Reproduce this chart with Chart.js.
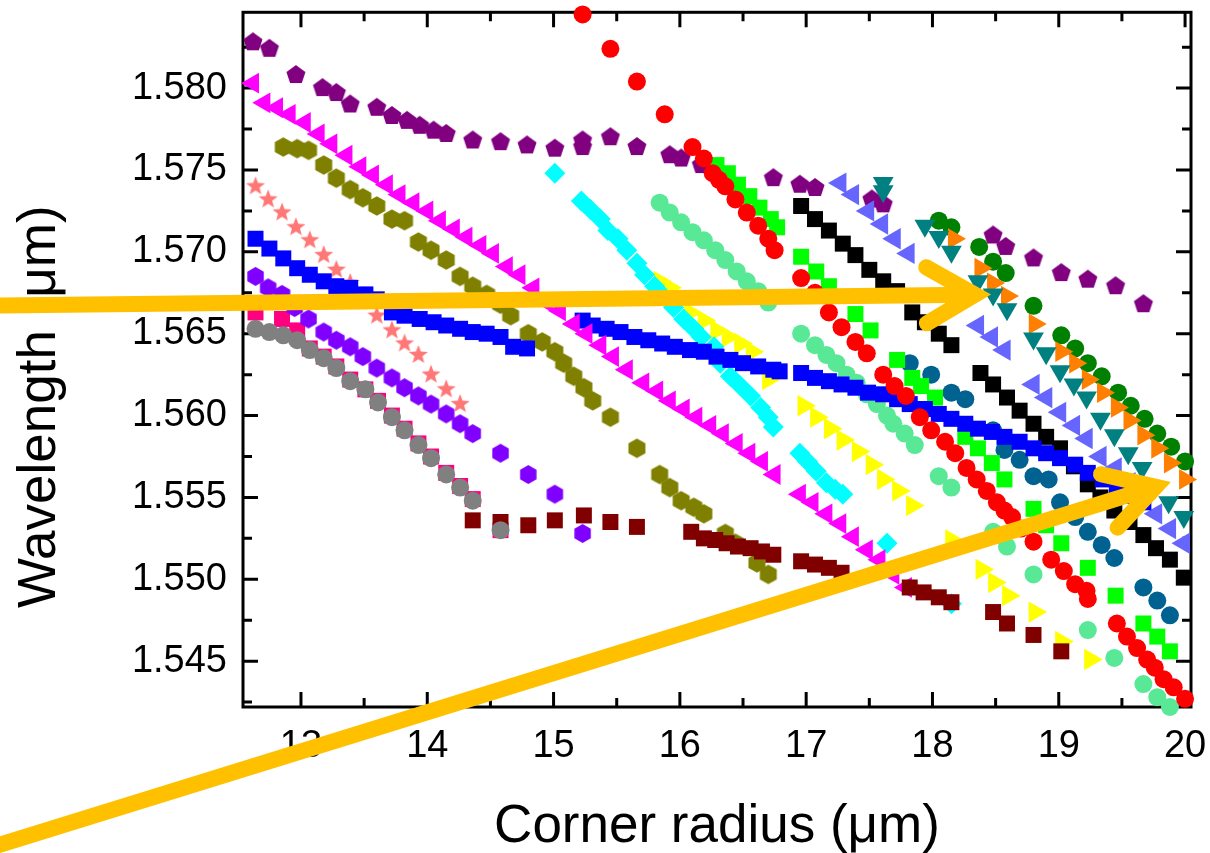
<!DOCTYPE html>
<html>
<head>
<meta charset="utf-8">
<script src="https://cdn.jsdelivr.net/npm/chart.js@4.4.1/dist/chart.umd.min.js"></script>
<style>
  html, body { margin: 0; padding: 0; background: #ffffff; }
  #wrap { width: 1210px; height: 853px; position: relative; }
</style>
</head>
<body>
<div id="wrap"><canvas id="chart"></canvas></div>
<script>
// ---- axes ----
const xRange = [12.541, 20.047];
const yRange = [1.5422, 1.58463];
const xTicks = [13, 14, 15, 16, 17, 18, 19, 20];
const xMinorTicks = [13.5, 14.5, 15.5, 16.5, 17.5, 18.5, 19.5];
const yTicks = [1.545, 1.550, 1.555, 1.560, 1.565, 1.570, 1.575, 1.580];
const yMinorTicks = [1.5425, 1.5475, 1.5525, 1.5575, 1.5625, 1.5675, 1.5725, 1.5775, 1.5825];
const xTitle = 'Corner radius (μm)';
const yTitle = 'Wavelength (μm)';

// ---- resonance branches: [corner radius, wavelength] ----
const redCircles = [[15.23,1.5845],[15.45,1.5824],[15.66,1.5804],[15.88,1.5784],[16.10,1.5764],[16.19,1.5757],[16.26,1.5748],[16.31,1.5744],[16.36,1.5740],[16.44,1.5732],[16.53,1.5724],[16.62,1.5716],[16.70,1.5708],[16.75,1.5701],[16.96,1.5684],[17.07,1.5675],[17.18,1.5663],[17.28,1.5654],[17.39,1.5645],[17.48,1.5638],[17.61,1.5625],[17.70,1.5618],[17.79,1.5612],[17.90,1.5599],[17.99,1.5591],[18.10,1.5584],[18.18,1.5577],[18.27,1.5568],[18.35,1.5561],[18.43,1.5554],[18.51,1.5547],[18.57,1.5542],[18.63,1.5538],[18.70,1.5531],[18.80,1.5523],[18.94,1.5512],[19.04,1.5505],[19.13,1.5497],[19.22,1.5493],[19.23,1.5488],[19.46,1.5473],[19.54,1.5465],[19.62,1.5458],[19.70,1.5451],[19.76,1.5446],[19.83,1.5439],[19.91,1.5434],[20.00,1.5427]];
const grayCircles = [[12.64,1.5653],[12.75,1.5651],[12.86,1.5649],[12.97,1.5646],[13.07,1.5640],[13.18,1.5635],[13.28,1.5629],[13.39,1.5621],[13.51,1.5616],[13.61,1.5608],[13.72,1.5599],[13.82,1.5591],[13.93,1.5582],[14.03,1.5574],[14.15,1.5564],[14.26,1.5556],[14.36,1.5548],[14.58,1.5530]];
const darkRedSquares = [[14.36,1.5536],[14.58,1.5535],[14.80,1.5533],[15.01,1.5536],[15.24,1.5539],[15.45,1.5535],[15.66,1.5532],[16.09,1.5529],[16.19,1.5525],[16.28,1.5524],[16.37,1.5522],[16.46,1.5520],[16.56,1.5519],[16.65,1.5517],[16.74,1.5515],[16.96,1.5511],[17.07,1.5509],[17.18,1.5507],[17.28,1.5504],[17.82,1.5495],[17.93,1.5492],[18.05,1.5489],[18.15,1.5486],[18.48,1.5480],[18.59,1.5473],[18.80,1.5466],[19.02,1.5456]];
const magentaTriangles = [[12.62,1.5803],[12.71,1.5791],[12.81,1.5788],[12.91,1.5784],[13.03,1.5779],[13.14,1.5772],[13.24,1.5766],[13.36,1.5759],[13.47,1.5752],[13.57,1.5747],[13.68,1.5741],[13.78,1.5735],[13.89,1.5730],[14.00,1.5725],[14.10,1.5719],[14.21,1.5714],[14.31,1.5709],[14.42,1.5704],[14.52,1.5699],[14.63,1.5691],[14.73,1.5686],[14.84,1.5678],[14.95,1.5669],[15.05,1.5664],[15.16,1.5656],[15.26,1.5650],[15.37,1.5643],[15.47,1.5636],[15.58,1.5628],[15.71,1.5620],[15.82,1.5615],[15.92,1.5609],[16.03,1.5604],[16.13,1.5599],[16.24,1.5594],[16.34,1.5589],[16.45,1.5583],[16.55,1.5577],[16.65,1.5572],[16.75,1.5564],[16.95,1.5552],[17.05,1.5547],[17.16,1.5540],[17.27,1.5534],[17.37,1.5526],[17.48,1.5518],[17.58,1.5512],[17.69,1.5503],[17.79,1.5495]];
const blueSquares = [[12.64,1.5708],[12.75,1.5702],[12.86,1.5696],[12.97,1.5690],[13.07,1.5686],[13.18,1.5682],[13.28,1.5679],[13.39,1.5678],[13.51,1.5674],[13.60,1.5671],[13.72,1.5663],[13.82,1.5661],[13.94,1.5659],[14.05,1.5657],[14.15,1.5655],[14.26,1.5653],[14.36,1.5651],[14.47,1.5650],[14.58,1.5648],[14.68,1.5642],[14.79,1.5641],[15.23,1.5658],[15.31,1.5655],[15.42,1.5653],[15.53,1.5651],[15.64,1.5648],[15.75,1.5646],[15.86,1.5644],[15.96,1.5642],[16.08,1.5640],[16.19,1.5639],[16.29,1.5636],[16.40,1.5634],[16.50,1.5632],[16.62,1.5630],[16.74,1.5628],[16.79,1.5627],[16.96,1.5626],[17.07,1.5623],[17.18,1.5621],[17.28,1.5619],[17.39,1.5617],[17.49,1.5614],[17.61,1.5613],[17.72,1.5610],[17.82,1.5607],[17.94,1.5604],[18.05,1.5601],[18.15,1.5598],[18.26,1.5595],[18.36,1.5592],[18.47,1.5590],[18.57,1.5587],[18.69,1.5584],[18.80,1.5580],[18.90,1.5577],[19.01,1.5574],[19.13,1.5570],[19.23,1.5565],[19.35,1.5561],[19.46,1.5556],[19.56,1.5551],[19.67,1.5547]];
const oliveHexagons = [[12.86,1.5764],[12.97,1.5763],[13.06,1.5762],[13.18,1.5753],[13.28,1.5745],[13.39,1.5738],[13.49,1.5733],[13.60,1.5728],[13.72,1.5720],[13.82,1.5719],[13.93,1.5706],[14.03,1.5701],[14.15,1.5695],[14.26,1.5685],[14.36,1.5679],[14.47,1.5674],[14.58,1.5668],[14.66,1.5661],[14.80,1.5650],[14.91,1.5645],[15.01,1.5639],[15.08,1.5632],[15.16,1.5624],[15.24,1.5617],[15.31,1.5609],[15.45,1.5599],[15.66,1.5580],[15.84,1.5564],[15.92,1.5556],[16.01,1.5548],[16.11,1.5544],[16.19,1.5540],[16.36,1.5528],[16.44,1.5522],[16.61,1.5510],[16.70,1.5503]];
const cyanDiamonds = [[15.01,1.5748],[15.22,1.5731],[15.29,1.5726],[15.37,1.5720],[15.43,1.5713],[15.51,1.5708],[15.58,1.5701],[15.66,1.5693],[15.72,1.5686],[15.80,1.5679],[15.87,1.5673],[15.95,1.5666],[16.03,1.5659],[16.11,1.5653],[16.17,1.5648],[16.27,1.5642],[16.32,1.5632],[16.40,1.5624],[16.48,1.5618],[16.56,1.5612],[16.64,1.5605],[16.70,1.5599],[16.74,1.5593],[16.95,1.5577],[17.01,1.5572],[17.08,1.5566],[17.16,1.5559],[17.23,1.5555],[17.29,1.5552],[17.64,1.5522],[18.15,1.5485]];
const yellowTriangles = [[15.84,1.5682],[15.92,1.5678],[16.08,1.5663],[16.19,1.5658],[16.29,1.5652],[16.38,1.5648],[16.48,1.5644],[16.57,1.5639],[16.70,1.5622],[16.98,1.5606],[17.08,1.5599],[17.19,1.5592],[17.29,1.5585],[17.41,1.5578],[17.52,1.5570],[17.61,1.5561],[17.73,1.5554],[17.84,1.5545],[18.15,1.5524],[18.39,1.5506],[18.49,1.5498],[18.60,1.5490],[18.81,1.5480],[19.02,1.5462],[19.25,1.5451]];
const blackSquares = [[16.96,1.5728],[17.07,1.5720],[17.18,1.5713],[17.29,1.5705],[17.39,1.5698],[17.50,1.5689],[17.61,1.5682],[17.72,1.5676],[17.84,1.5663],[17.94,1.5657],[18.05,1.5650],[18.15,1.5643],[18.38,1.5626],[18.48,1.5619],[18.59,1.5611],[18.69,1.5603],[18.80,1.5595],[18.90,1.5587],[19.01,1.5580],[19.12,1.5569],[19.23,1.5558],[19.33,1.5550],[19.44,1.5542],[19.56,1.5535],[19.67,1.5527],[19.77,1.5519],[19.88,1.5512],[19.99,1.5501]];
const greenSquares = [[16.29,1.5753],[16.38,1.5748],[16.46,1.5741],[16.55,1.5734],[16.63,1.5727],[16.72,1.5720],[16.77,1.5715],[16.96,1.5697],[17.08,1.5688],[17.18,1.5679],[17.39,1.5662],[17.51,1.5652],[17.72,1.5634],[17.84,1.5623],[17.91,1.5618],[18.02,1.5611],[18.26,1.5587],[18.36,1.5580],[18.47,1.5571],[18.57,1.5561],[18.80,1.5543],[18.90,1.5533],[19.02,1.5522],[19.23,1.5507],[19.45,1.5490],[19.67,1.5473],[19.78,1.5465],[19.88,1.5456]];
const seafoamCircles = [[15.84,1.5730],[15.92,1.5724],[16.01,1.5718],[16.10,1.5712],[16.19,1.5707],[16.28,1.5701],[16.36,1.5695],[16.45,1.5688],[16.53,1.5682],[16.62,1.5676],[16.70,1.5669],[16.96,1.5650],[17.07,1.5643],[17.16,1.5637],[17.24,1.5632],[17.32,1.5625],[17.40,1.5620],[17.48,1.5613],[17.56,1.5607],[17.64,1.5600],[17.69,1.5595],[17.78,1.5589],[17.86,1.5582],[18.05,1.5563],[18.15,1.5556],[18.48,1.5529],[18.59,1.5520],[18.80,1.5503],[19.23,1.5469],[19.44,1.5452],[19.67,1.5436],[19.78,1.5428],[19.88,1.5422]];
const steelCircles = [[17.82,1.5632],[17.99,1.5625],[18.15,1.5614],[18.26,1.5610],[18.48,1.5591],[18.57,1.5579],[18.69,1.5573],[18.80,1.5563],[18.92,1.5561],[19.01,1.5547],[19.13,1.5538],[19.23,1.5529],[19.34,1.5521],[19.44,1.5513],[19.67,1.5495],[19.78,1.5487],[19.88,1.5478]];
const slateTriangles = [[17.27,1.5742],[17.37,1.5735],[17.49,1.5725],[17.60,1.5717],[17.70,1.5708],[17.81,1.5699],[18.36,1.5655],[18.47,1.5648],[18.57,1.5640],[18.80,1.5619],[18.90,1.5611],[19.01,1.5602],[19.12,1.5594],[19.22,1.5586],[19.33,1.5575],[19.45,1.5568],[19.56,1.5559],[19.67,1.5550],[19.77,1.5540],[19.88,1.5531],[19.99,1.5522]];
const tealTriangles = [[17.61,1.5742],[17.61,1.5737],[17.94,1.5716],[18.05,1.5709],[18.15,1.5700],[18.36,1.5682],[18.48,1.5674],[18.59,1.5665],[18.80,1.5647],[18.90,1.5638],[19.01,1.5627],[19.12,1.5619],[19.22,1.5611],[19.33,1.5598],[19.44,1.5588],[19.55,1.5577],[19.66,1.5568],[19.76,1.5556],[19.87,1.5547],[19.99,1.5538]];
const orangeTriangles = [[18.17,1.5708],[18.38,1.5690],[18.48,1.5681],[18.59,1.5673],[18.81,1.5656],[19.02,1.5639],[19.13,1.5632],[19.23,1.5622],[19.35,1.5614],[19.46,1.5605],[19.56,1.5597],[19.67,1.5588],[19.78,1.5580],[19.88,1.5571],[20.00,1.5561]];
const greenCircles = [[18.05,1.5719],[18.15,1.5715],[18.37,1.5703],[18.48,1.5694],[18.58,1.5687],[18.80,1.5667],[19.02,1.5649],[19.13,1.5641],[19.23,1.5632],[19.34,1.5624],[19.47,1.5614],[19.57,1.5606],[19.68,1.5598],[19.78,1.5589],[19.89,1.5581],[20.00,1.5572]];
const purplePentagons = [[12.62,1.5828],[12.75,1.5824],[12.96,1.5808],[13.17,1.5800],[13.28,1.5797],[13.39,1.5790],[13.60,1.5788],[13.72,1.5783],[13.84,1.5780],[13.94,1.5777],[14.05,1.5774],[14.15,1.5772],[14.36,1.5768],[14.58,1.5767],[14.79,1.5765],[15.01,1.5763],[15.23,1.5768],[15.23,1.5764],[15.45,1.5770],[15.66,1.5764],[15.92,1.5759],[16.01,1.5757],[16.17,1.5753],[16.74,1.5745],[16.95,1.5741],[17.07,1.5739],[17.52,1.5732],[17.61,1.5729],[18.48,1.5710],[18.58,1.5703],[18.80,1.5696],[19.02,1.5687],[19.23,1.5683],[19.45,1.5679],[19.67,1.5668]];
const salmonStars = [[12.64,1.5740],[12.74,1.5732],[12.85,1.5724],[12.96,1.5715],[13.07,1.5707],[13.18,1.5698],[13.28,1.5689],[13.39,1.5681],[13.50,1.5673],[13.60,1.5661],[13.72,1.5652],[13.82,1.5644],[13.93,1.5637],[14.03,1.5625],[14.15,1.5616],[14.26,1.5607]];
const violetHexagons = [[12.64,1.5685],[12.74,1.5678],[12.85,1.5674],[12.95,1.5666],[13.06,1.5659],[13.18,1.5651],[13.28,1.5646],[13.39,1.5642],[13.49,1.5636],[13.60,1.5629],[13.72,1.5623],[13.82,1.5617],[13.93,1.5612],[14.03,1.5607],[14.15,1.5601],[14.26,1.5595],[14.36,1.5589],[14.58,1.5577],[14.80,1.5564],[15.01,1.5552],[15.23,1.5528]];
const pinkSquares = [[12.64,1.5663],[12.85,1.5659],[12.97,1.5652],[13.07,1.5641],[13.18,1.5636],[13.28,1.5630],[13.39,1.5622],[13.51,1.5616],[13.61,1.5609],[13.72,1.5600],[13.82,1.5592],[13.93,1.5583],[14.03,1.5575],[14.15,1.5565],[14.26,1.5557],[14.36,1.5549],[14.58,1.5530]];

// ---- annotation arrows (tail and tip in axis units) ----
const arrowTails = [[10.538, 1.56671], [10.538, 1.53360]];
const arrowTips  = [[18.337, 1.56738], [19.767, 1.55566]];

// ---- marker images for shapes Chart.js lacks ----
function polygonMarker(color, sides, r, inner) {
  const size = Math.ceil(2 * r + 4);
  const c = document.createElement('canvas');
  c.width = size; c.height = size;
  const g = c.getContext('2d');
  const cx = size / 2, cy = size / 2;
  const n = inner ? sides * 2 : sides;
  g.fillStyle = color;
  g.beginPath();
  for (let i = 0; i < n; i++) {
    const a = -Math.PI / 2 + i * 2 * Math.PI / n;
    const rr = inner && (i % 2) ? inner : r;
    const px = cx + rr * Math.cos(a), py = cy + rr * Math.sin(a);
    if (i) g.lineTo(px, py); else g.moveTo(px, py);
  }
  g.closePath();
  g.fill();
  return c;
}

function series(data, color, style, radius, rotation) {
  return {
    data: data.map(([x, y]) => ({ x, y })),
    backgroundColor: color,
    borderColor: color,
    pointBackgroundColor: color,
    pointBorderColor: color,
    pointBorderWidth: 0,
    pointStyle: style,
    pointRadius: radius,
    pointHoverRadius: radius,
    pointRotation: rotation || 0,
    showLine: false,
    clip: false
  };
}

// first listed is painted on top
const datasets = [
  series(redCircles, '#FF0000', 'circle', 9),
  series(grayCircles, '#808080', 'circle', 9),
  series(darkRedSquares, '#800000', 'rect', 11.3),
  series(magentaTriangles, '#FF00FF', 'triangle', 12, -90),
  series(blueSquares, '#0000FF', 'rect', 11.3),
  series(oliveHexagons, '#808000', polygonMarker('#808000', 6, 9.8), 9),
  series(cyanDiamonds, '#00FFFF', 'rectRot', 10.5),
  series(yellowTriangles, '#FFFF00', 'triangle', 12.3, 90),
  series(blackSquares, '#000000', 'rect', 11.3),
  series(greenSquares, '#00FF00', 'rect', 11.3),
  series(seafoamCircles, '#58E896', 'circle', 9),
  series(steelCircles, '#006290', 'circle', 9),
  series(slateTriangles, '#6666FF', 'triangle', 12.3, -90),
  series(tealTriangles, '#008080', 'triangle', 12, 180),
  series(orangeTriangles, '#FF8000', 'triangle', 12, 90),
  series(greenCircles, '#008000', 'circle', 9),
  series(purplePentagons, '#800080', polygonMarker('#800080', 5, 10), 10),
  series(salmonStars, '#FF7878', polygonMarker('#FF7878', 5, 10, 4.2), 10),
  series(violetHexagons, '#8000FF', polygonMarker('#8000FF', 6, 9.5), 9),
  series(pinkSquares, '#FF0080', 'rect', 11.3)
];

// frame with inward major/minor ticks on all four sides, plus axis titles
const framePlugin = {
  id: 'frame',
  beforeDatasetsDraw(chart) {
    const { ctx, chartArea: a, scales: { x, y } } = chart;
    ctx.save();
    ctx.strokeStyle = '#000000';
    ctx.lineWidth = 3;
    ctx.strokeRect(a.left, a.top, a.right - a.left, a.bottom - a.top);
    ctx.beginPath();
    const vTick = (v, len) => {
      const p = x.getPixelForValue(v);
      ctx.moveTo(p, a.bottom); ctx.lineTo(p, a.bottom - len);
      ctx.moveTo(p, a.top); ctx.lineTo(p, a.top + len);
    };
    const hTick = (v, len) => {
      const p = y.getPixelForValue(v);
      ctx.moveTo(a.left, p); ctx.lineTo(a.left + len, p);
      ctx.moveTo(a.right, p); ctx.lineTo(a.right - len, p);
    };
    xTicks.forEach(v => vTick(v, 15));
    xMinorTicks.forEach(v => vTick(v, 9));
    yTicks.forEach(v => hTick(v, 15));
    yMinorTicks.forEach(v => hTick(v, 9));
    ctx.stroke();

    ctx.fillStyle = '#000000';
    ctx.font = '53px "Liberation Sans", Arial, sans-serif';
    ctx.textAlign = 'center';
    ctx.textBaseline = 'alphabetic';
    ctx.fillText(xTitle, (a.left + a.right) / 2, 842);
    ctx.translate(55, (a.top + a.bottom) / 2 + 47);
    ctx.rotate(-Math.PI / 2);
    ctx.fillText(yTitle, 0, 0);
    ctx.restore();
  }
};

// two thick amber arrows drawn over everything
const arrowPlugin = {
  id: 'arrows',
  afterDraw(chart) {
    const { ctx, scales: { x, y } } = chart;
    ctx.save();
    ctx.strokeStyle = '#FFC000';
    ctx.lineWidth = 16;
    ctx.lineCap = 'round';
    ctx.lineJoin = 'miter';
    ctx.miterLimit = 10;
    const head = 56, spread = Math.PI / 6;
    arrowTails.forEach((t, i) => {
      const x0 = x.getPixelForValue(t[0]), y0 = y.getPixelForValue(t[1]);
      const x1 = x.getPixelForValue(arrowTips[i][0]), y1 = y.getPixelForValue(arrowTips[i][1]);
      const ang = Math.atan2(y1 - y0, x1 - x0);
      ctx.beginPath();
      ctx.moveTo(x0, y0);
      ctx.lineTo(x1 - 6 * Math.cos(ang), y1 - 6 * Math.sin(ang));
      ctx.stroke();
      ctx.beginPath();
      ctx.moveTo(x1 - head * Math.cos(ang - spread), y1 - head * Math.sin(ang - spread));
      ctx.lineTo(x1, y1);
      ctx.lineTo(x1 - head * Math.cos(ang + spread), y1 - head * Math.sin(ang + spread));
      ctx.stroke();
    });
    ctx.restore();
  }
};

const tickFont = { family: '"Liberation Sans", Arial, sans-serif', size: 38 };

// keep the plot box fixed: no extra room for overhanging edge labels
function noOverhang(s) {
  s.paddingTop = 0; s.paddingBottom = 0; s.paddingLeft = 0; s.paddingRight = 0;
}

new Chart(document.getElementById('chart'), {
  type: 'scatter',
  data: { datasets },
  plugins: [framePlugin, arrowPlugin],
  options: {
    responsive: true,
    maintainAspectRatio: false,
    animation: false,
    events: [],
    layout: { padding: { left: 0, right: 19, top: 11, bottom: 0 } },
    plugins: { legend: { display: false }, tooltip: { enabled: false } },
    scales: {
      x: {
        type: 'linear',
        min: xRange[0], max: xRange[1],
        border: { display: false },
        grid: { display: false, drawTicks: false },
        afterBuildTicks: s => { s.ticks = xTicks.map(v => ({ value: v })); },
        afterFit: s => { s.height = 146; noOverhang(s); },
        ticks: { font: tickFont, color: '#000000', padding: 17, maxRotation: 0, autoSkip: false,
                 callback: v => String(v) }
      },
      y: {
        type: 'linear',
        min: yRange[0], max: yRange[1],
        border: { display: false },
        grid: { display: false, drawTicks: false },
        afterBuildTicks: s => { s.ticks = yTicks.map(v => ({ value: v })); },
        afterFit: s => { s.width = 243; noOverhang(s); },
        ticks: { font: tickFont, color: '#000000', padding: 16, autoSkip: false,
                 callback: v => v.toFixed(3) }
      }
    }
  }
});
</script>
</body>
</html>
